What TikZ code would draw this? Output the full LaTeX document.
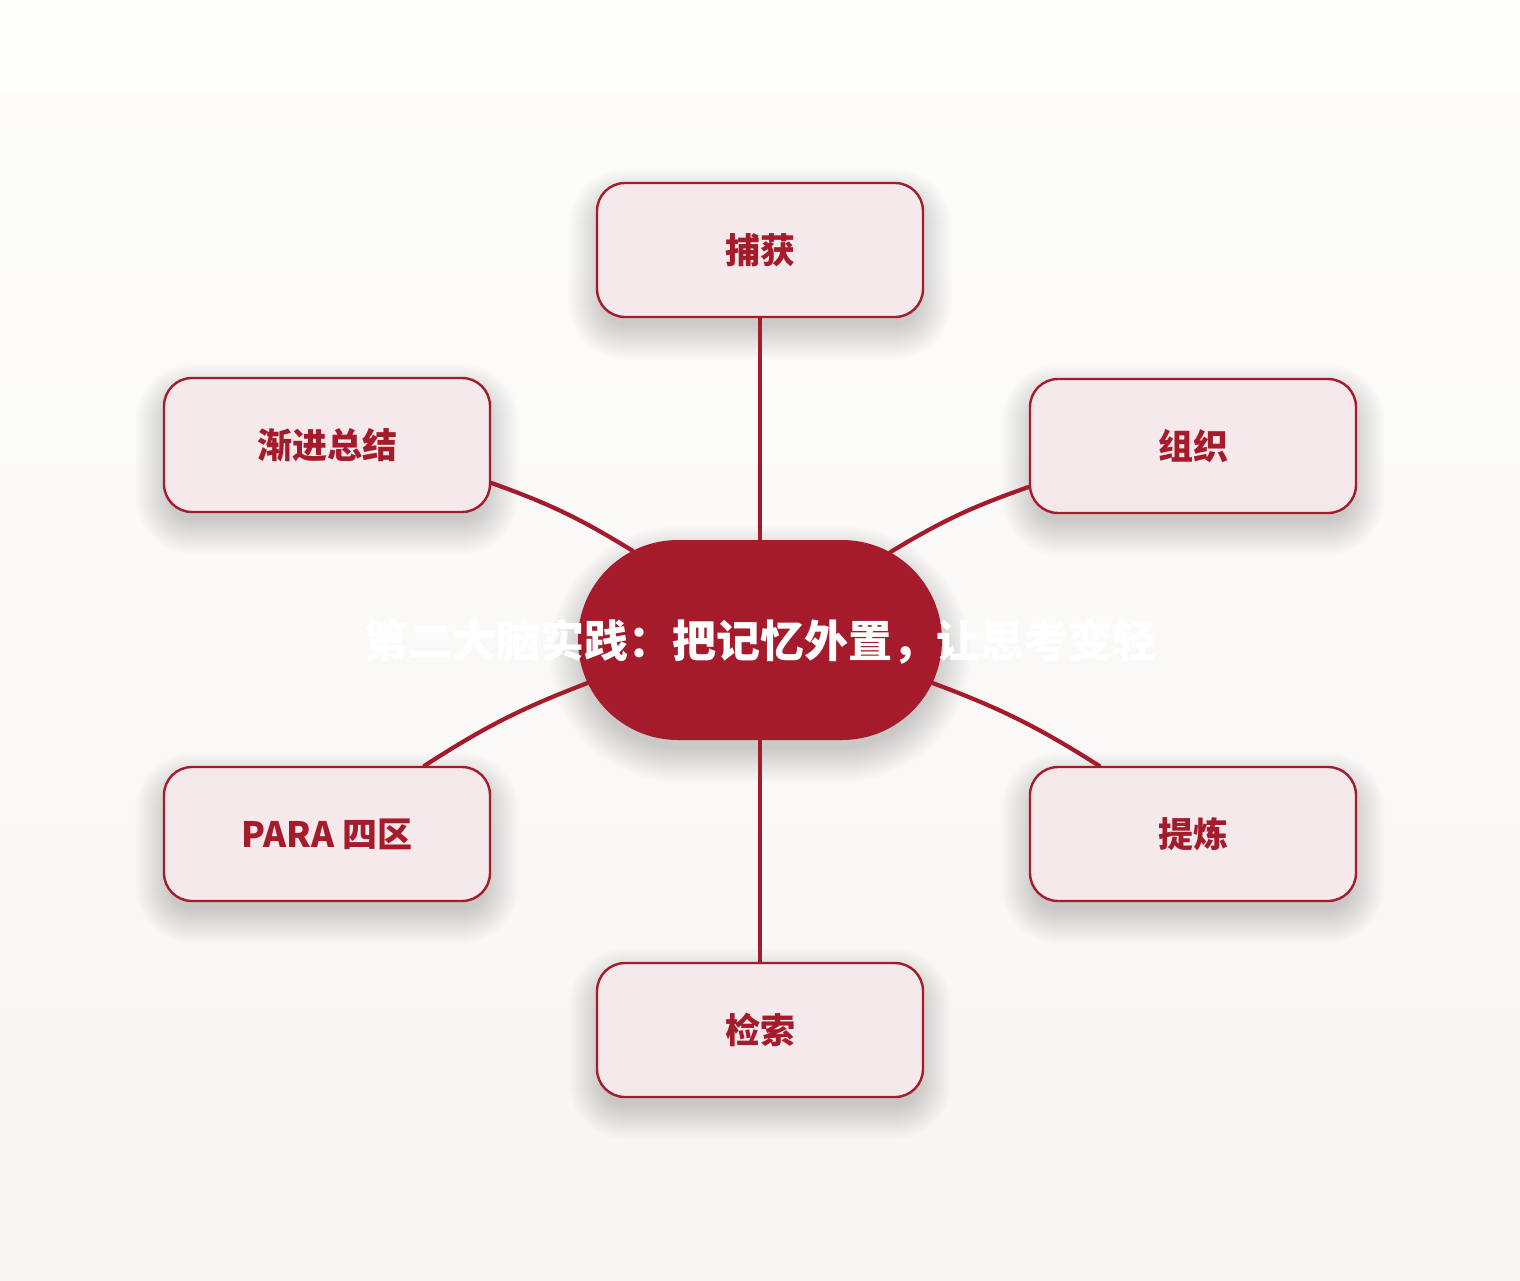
\documentclass[tikz,border=0pt]{standalone}
\usepackage{fontspec}
\setmainfont{Noto Sans CJK SC}
\usetikzlibrary{shapes.misc}
\definecolor{brandred}{HTML}{A51B2B}
\definecolor{boxfill}{HTML}{F5E9EB}
\definecolor{bgtop}{HTML}{FDFDFC}
\definecolor{bgbot}{HTML}{F8F6F3}
% soft shadow: centre x, centre y, width, height, corner radius
\newcommand\softshade[5]{%
  \foreach \k in {0,...,23}{%
    \pgfmathsetmacro\sgrow{\k*1.5-6}%
    \pgfmathsetmacro\srad{max(#5+\sgrow,1)}%
    \fill[black, opacity=0.009, rounded corners=\srad pt]
      ({#1-#3/2-\sgrow},{#2+14-#4/2-\sgrow}) rectangle ({#1+#3/2+\sgrow},{#2+14+#4/2+\sgrow});
  }%
}
\tikzset{
  leaf/.style={draw=brandred, line width=2.4pt, fill=boxfill, rounded corners=28pt,
    minimum width=326pt, minimum height=134pt, inner sep=0pt,
    text=brandred, font=\fontsize{35}{40}\selectfont\bfseries},
  hub/.style={rounded rectangle, fill=brandred, draw=none,
    minimum width=364pt, minimum height=200pt, inner sep=0pt},
  hubtext/.style={text=white, font=\fontsize{44}{50}\selectfont\bfseries, inner sep=0pt},
  link/.style={draw=brandred, line width=4.2pt, line cap=round}
}
\begin{document}
\begin{tikzpicture}[x=1pt,y=-1pt]
\useasboundingbox (0,0) rectangle (1520,1280);
\shade[top color=bgtop, bottom color=bgbot, draw=none] (0,0) rectangle (1520,1280);
% shadows
\softshade{760}{250}{326}{134}{28}
\softshade{1193}{446}{326}{134}{28}
\softshade{1193}{834}{326}{134}{28}
\softshade{760}{1030}{326}{134}{28}
\softshade{327}{834}{326}{134}{28}
\softshade{327}{445}{326}{134}{28}
\softshade{760}{640}{364}{200}{100}
% nodes
\node[leaf] (cap) at (760,250) {捕获};
\node[leaf] (org) at (1193,446) {组织};
\node[leaf] (dis) at (1193,834) {提炼};
\node[leaf] (ret) at (760,1030) {检索};
\node[leaf] (para) at (327,834) {PARA 四区};
\node[leaf] (prog) at (327,445) {渐进总结};
\node[hub] (hub) at (760,640) {};
% connectors
\draw[link] (cap.south) -- (hub.north);
\draw[link] (hub.south) -- (ret.north);
\draw[link] (prog.-13.5) to[bend left=6] (hub.145.6);
\draw[link] (org.194.1) to[bend right=6] (hub.34.7);
\draw[link] (hub.-14.7) to[bend left=6] (dis.144.2);
\draw[link] (hub.194.4) to[bend right=6] (para.35.8);
\node[hubtext] (title) at (760,642) {第二大脑实践：把记忆外置，让思考变轻};
\end{tikzpicture}
\end{document}
